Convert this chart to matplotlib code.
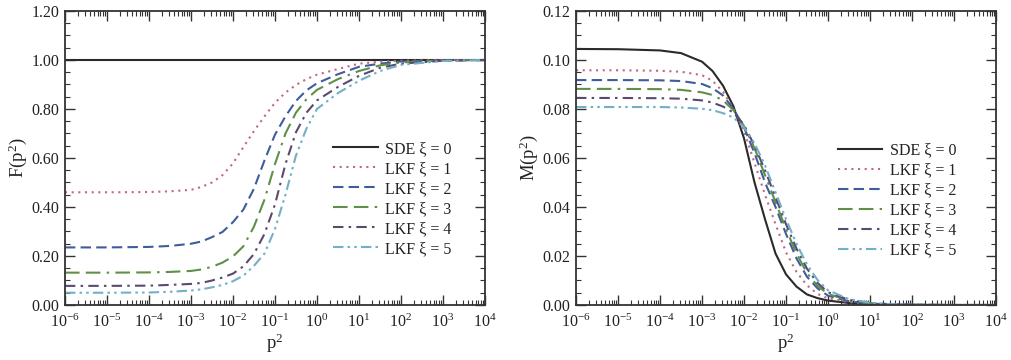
import matplotlib.pyplot as plt
import numpy as np
from matplotlib.ticker import LogLocator, MultipleLocator, FormatStrFormatter

plt.rcParams.update({'font.size': 11})
plt.rcParams['font.family'] = ['Liberation Serif', 'DejaVu Serif']
plt.rcParams['mathtext.default'] = 'regular'
plt.rcParams['text.color'] = '#222222'
plt.rcParams['axes.labelcolor'] = '#222222'
plt.rcParams['xtick.labelcolor'] = '#222222'
plt.rcParams['ytick.labelcolor'] = '#222222'

# log10(p^2) sample points
log_p2 = [-6, -5, -4, -3.5, -3, -2.75, -2.5, -2.25, -2, -1.75, -1.5, -1.25,
          -1, -0.75, -0.5, -0.25, 0, 0.5, 1, 1.5, 2, 3, 4]

# F(p^2)
F_sde = [1.0] * 23
F_x1 = [.46, .46, .461, .464, .47, .482, .50, .53, .578, .645, .71, .77,
        .825, .867, .898, .922, .94, .963, .985, .993, .997, 1.0, 1.0]
F_x2 = [.235, .235, .237, .241, .25, .259, .277, .298, .338, .39, .475, .59,
        .695, .77, .833, .876, .905, .942, .972, .985, .994, .999, 1.0]
F_x3 = [.132, .132, .133, .135, .139, .145, .156, .173, .198, .24, .32, .43,
        .575, .70, .785, .84, .878, .922, .955, .978, .99, .998, 1.0]
F_x4 = [.078, .078, .079, .082, .086, .09, .10, .112, .128, .158, .208, .29,
        .41, .575, .705, .785, .835, .89, .935, .968, .985, .997, 1.0]
F_x5 = [.05, .05, .051, .054, .059, .064, .072, .082, .097, .12, .16, .21,
        .31, .45, .61, .72, .80, .865, .915, .955, .98, .996, 1.0]

# M(p^2)
M_sde = [.1045, .1044, .1039, .1028, .0993, .0955, .0895, .081, .068, .050, .035, .021,
         .0125, .0075, .0043, .0028, .0018, .0008, .0003, .0001, .00005, 0, 0]
M_x1 = [.0958, .0958, .0956, .0952, .0938, .0915, .087, .080, .071, .058, .045, .033,
        .0215, .0135, .008, .0045, .0027, .0012, .0005, .0002, .0001, 0, 0]
M_x2 = [.0918, .0918, .0917, .0914, .0902, .0885, .0855, .080, .0725, .062, .050, .040,
        .029, .019, .0115, .0068, .0038, .0015, .0006, .0002, .0001, 0, 0]
M_x3 = [.0882, .0882, .0881, .0878, .0868, .0857, .0835, .0795, .073, .064, .053, .042,
        .031, .021, .013, .0078, .0045, .0018, .0007, .0002, .0001, 0, 0]
M_x4 = [.0845, .0845, .0844, .0842, .0835, .0826, .081, .0785, .0735, .065, .055, .044,
        .033, .023, .0148, .009, .0052, .0021, .0008, .0003, .0001, 0, 0]
M_x5 = [.0808, .0808, .0808, .0806, .0801, .0795, .0783, .0765, .0725, .066, .057, .046,
        .035, .025, .0165, .0102, .006, .0024, .0009, .0003, .0001, 0, 0]

labels = ['SDE ξ = 0', 'LKF ξ = 1', 'LKF ξ = 2', 'LKF ξ = 3', 'LKF ξ = 4', 'LKF ξ = 5']
colors = ['#2a2a2a', '#c0687e', '#3f5c9c', '#5f8f48', '#5a4a72', '#72b0c8']
styles = ['-', (0, (1, 2.2)), (0, (5, 2.5)), (0, (7, 3, 7, 3, 1.2, 3)),
          (0, (5, 2.5, 1.2, 2.5)), (0, (5, 2, 1.2, 2, 1.2, 2))]

p2 = 10.0 ** np.array(log_p2)

fig = plt.figure(figsize=(10.12, 3.6), dpi=100)
ax1 = fig.add_axes([0.0642, 0.1528, 0.415, 0.8167])
ax2 = fig.add_axes([0.5692, 0.1528, 0.415, 0.8167])


def style_axis(ax, ymax, major, minor, fmt):
    ax.set_xscale('log')
    ax.set_xlim(1e-6, 1e4)
    ax.set_ylim(0, ymax)
    ax.xaxis.set_major_locator(LogLocator(base=10, numticks=20))
    ax.xaxis.set_minor_locator(LogLocator(base=10, subs=np.arange(2, 10), numticks=20))
    ax.yaxis.set_major_locator(MultipleLocator(major))
    ax.yaxis.set_minor_locator(MultipleLocator(minor))
    ax.yaxis.set_major_formatter(FormatStrFormatter(fmt))
    ax.tick_params(which='both', direction='in', top=True, right=True, color='#333333')
    ax.tick_params(which='major', length=7, width=1.0, labelsize=11.5)
    ax.tick_params(which='minor', length=3.5, width=0.8)
    ax.tick_params(axis='x', which='major', pad=6)
    ax.tick_params(axis='y', which='major', pad=4)
    for s in ax.spines.values():
        s.set_color('#333333')
        s.set_linewidth(1.3)
    ax.set_xlabel('p$^{2}$', fontsize=13.5, labelpad=1)


for y, lab, c, ls in zip([F_sde, F_x1, F_x2, F_x3, F_x4, F_x5], labels, colors, styles):
    ax1.plot(p2, y, color=c, linestyle=ls, linewidth=1.5, label=lab)
for y, lab, c, ls in zip([M_sde, M_x1, M_x2, M_x3, M_x4, M_x5], labels, colors, styles):
    ax2.plot(p2, y, color=c, linestyle=ls, linewidth=1.5, label=lab)

style_axis(ax1, 1.2, 0.2, 0.05, '%.2f')
style_axis(ax2, 0.12, 0.02, 0.005, '%.2f')
ax1.set_ylabel('F(p$^{2}$)', fontsize=13.5, labelpad=2)
ax2.set_ylabel('M(p$^{2}$)', fontsize=13.5, labelpad=2)

ax1.legend(loc='upper right', bbox_to_anchor=(0.935, 0.58), frameon=False,
           handlelength=2.8, handletextpad=0.45, labelspacing=0.25, fontsize=11.5,
           borderaxespad=0)
ax2.legend(loc='upper right', bbox_to_anchor=(0.92, 0.575), frameon=False,
           handlelength=2.8, handletextpad=0.45, labelspacing=0.25, fontsize=11.5,
           borderaxespad=0)

plt.savefig('out.png', dpi=100)
